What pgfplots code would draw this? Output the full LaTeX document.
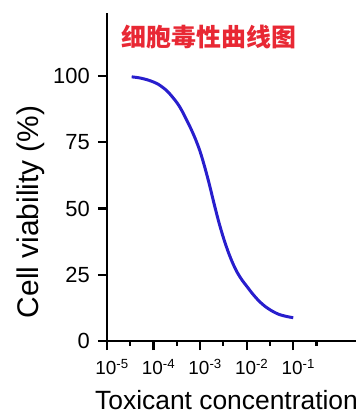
\documentclass[border=0pt]{standalone}
\usepackage{fontspec}
\setmainfont{Liberation Sans}
\newfontfamily\cjk{Noto Sans CJK SC}
\usepackage{pgfplots}
\pgfplotsset{compat=1.18}
\definecolor{curveblue}{RGB}{40,30,205}
\definecolor{titlered}{RGB}{232,40,52}
\begin{document}
\begin{tikzpicture}
\useasboundingbox (-107bp,-75bp) rectangle (257bp,341bp);
\begin{axis}[
  scale only axis,
  width=249bp, height=328bp,
  xmin=-5, xmax=0.348,
  ymin=0, ymax=123.8,
  axis x line=bottom, axis y line=left,
  axis line style={-, line width=2.8pt, black},
  tick align=outside,
  major tick length=9bp,
  minor tick length=4.5bp,
  every tick/.style={black, line width=2.2pt},
  xtick={-5,-4,-3,-2,-1},
  xticklabels={10\textsuperscript{-5},10\textsuperscript{-4},10\textsuperscript{-3},10\textsuperscript{-2},10\textsuperscript{-1}},
  minor xtick={-4.5,-3.5,-2.5,-1.5,-0.5},
  ytick={0,25,50,75,100},
  yticklabels={0,25,50,75,100},
  xticklabel style={font=\fontsize{19}{20}\selectfont, inner sep=0pt, yshift=-9bp, xshift=5bp},
  yticklabel style={font=\fontsize{22}{23}\selectfont, inner sep=0pt, xshift=-8bp},
  xlabel={Toxicant concentration},
  xlabel style={font=\fontsize{26.5}{28}\selectfont, at={(axis description cs:0.48,0)}, anchor=base, yshift=-68bp, inner sep=0pt, text depth=0pt},
  ylabel={Cell viability (\%)},
  ylabel style={font=\fontsize{30}{31}\selectfont, at={(axis description cs:-0.305,0.394)}, anchor=center, inner sep=0pt},
  clip=false,
]
% x = log10(concentration), y = viability (%)
\addplot[curveblue, line width=3pt, smooth, tension=0.5] coordinates {
(-4.47,99.7)
(-4.3,99.3)
(-4.1,98.4)
(-3.9,96.9)
(-3.7,94.2)
(-3.5,90.0)
(-3.4,87.2)
(-3.3,83.8)
(-3.2,80.2)
(-3.1,76.2)
(-3.0,71.5)
(-2.9,65.6)
(-2.8,59.0)
(-2.7,51.8)
(-2.6,45.0)
(-2.5,39.0)
(-2.4,33.8)
(-2.3,29.4)
(-2.2,25.8)
(-2.1,23.0)
(-2.0,20.7)
(-1.9,18.4)
(-1.8,16.3)
(-1.7,14.5)
(-1.6,13.0)
(-1.5,11.8)
(-1.4,10.8)
(-1.3,10.0)
(-1.2,9.5)
(-1.1,9.1)
(-1.0,8.8)
};
\node[text=titlered, font=\cjk\bfseries\fontsize{25}{25}\selectfont, anchor=center, inner sep=0pt] at (axis description cs:0.41,0.927) {细胞毒性曲线图};
\end{axis}
\end{tikzpicture}
\end{document}
